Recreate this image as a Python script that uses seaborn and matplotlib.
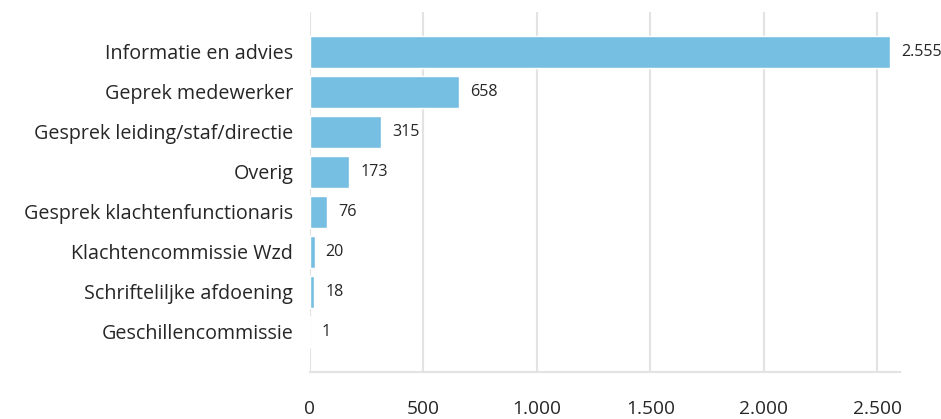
import matplotlib
matplotlib.use("Agg")
import matplotlib.pyplot as plt
from matplotlib.ticker import FuncFormatter
import seaborn as sns
import pandas as pd

categories = [
    "Informatie en advies",
    "Geprek medewerker",
    "Gesprek leiding/staf/directie",
    "Overig",
    "Gesprek klachtenfunctionaris",
    "Klachtencommissie Wzd",
    "Schrifteliljke afdoening",
    "Geschillencommissie",
]
values = [2555, 658, 315, 173, 76, 20, 18, 1]
x_ticks = [0, 500, 1000, 1500, 2000, 2500]

BAR_COLOR = "#77bfe2"
TEXT_COLOR = "#262626"
GRID_COLOR = "#e3e3e3"


def dutch_number(v):
    return f"{int(round(v)):,}".replace(",", ".")


sns.set_theme(style="white")
plt.rcParams["font.family"] = ["Open Sans", "DejaVu Sans"]

df = pd.DataFrame({"categorie": categories, "aantal": values})

fig = plt.figure(figsize=(9.41, 4.19), dpi=100)
ax = fig.add_axes([0.3294, 0.1122, 0.6270, 0.8592])

sns.barplot(data=df, x="aantal", y="categorie", order=categories,
            color=BAR_COLOR, saturation=1, width=0.78, ax=ax, zorder=3)

ax.set_xlim(0, 2600)
ax.set_ylim(8.0, -1.0)
ax.set_xticks(x_ticks)
ax.xaxis.set_major_formatter(FuncFormatter(lambda v, p: dutch_number(v)))
ax.grid(axis="x", color=GRID_COLOR, linewidth=1.5, zorder=0)
ax.grid(axis="y", visible=False)
ax.set_axisbelow(True)

for side in ["top", "right", "left"]:
    ax.spines[side].set_visible(False)
ax.spines["bottom"].set_color(GRID_COLOR)
ax.spines["bottom"].set_linewidth(1.5)

ax.tick_params(axis="x", length=0, pad=20, labelsize=13.8, labelcolor=TEXT_COLOR)
ax.tick_params(axis="y", length=0, pad=12, labelsize=14.2, labelcolor=TEXT_COLOR)
ax.set_xlabel("")
ax.set_ylabel("")

for container in ax.containers:
    ax.bar_label(container, labels=[dutch_number(v) for v in values],
                 padding=8, fontsize=11.6, color=TEXT_COLOR)

fig.savefig("out.png", dpi=100, facecolor="white")
